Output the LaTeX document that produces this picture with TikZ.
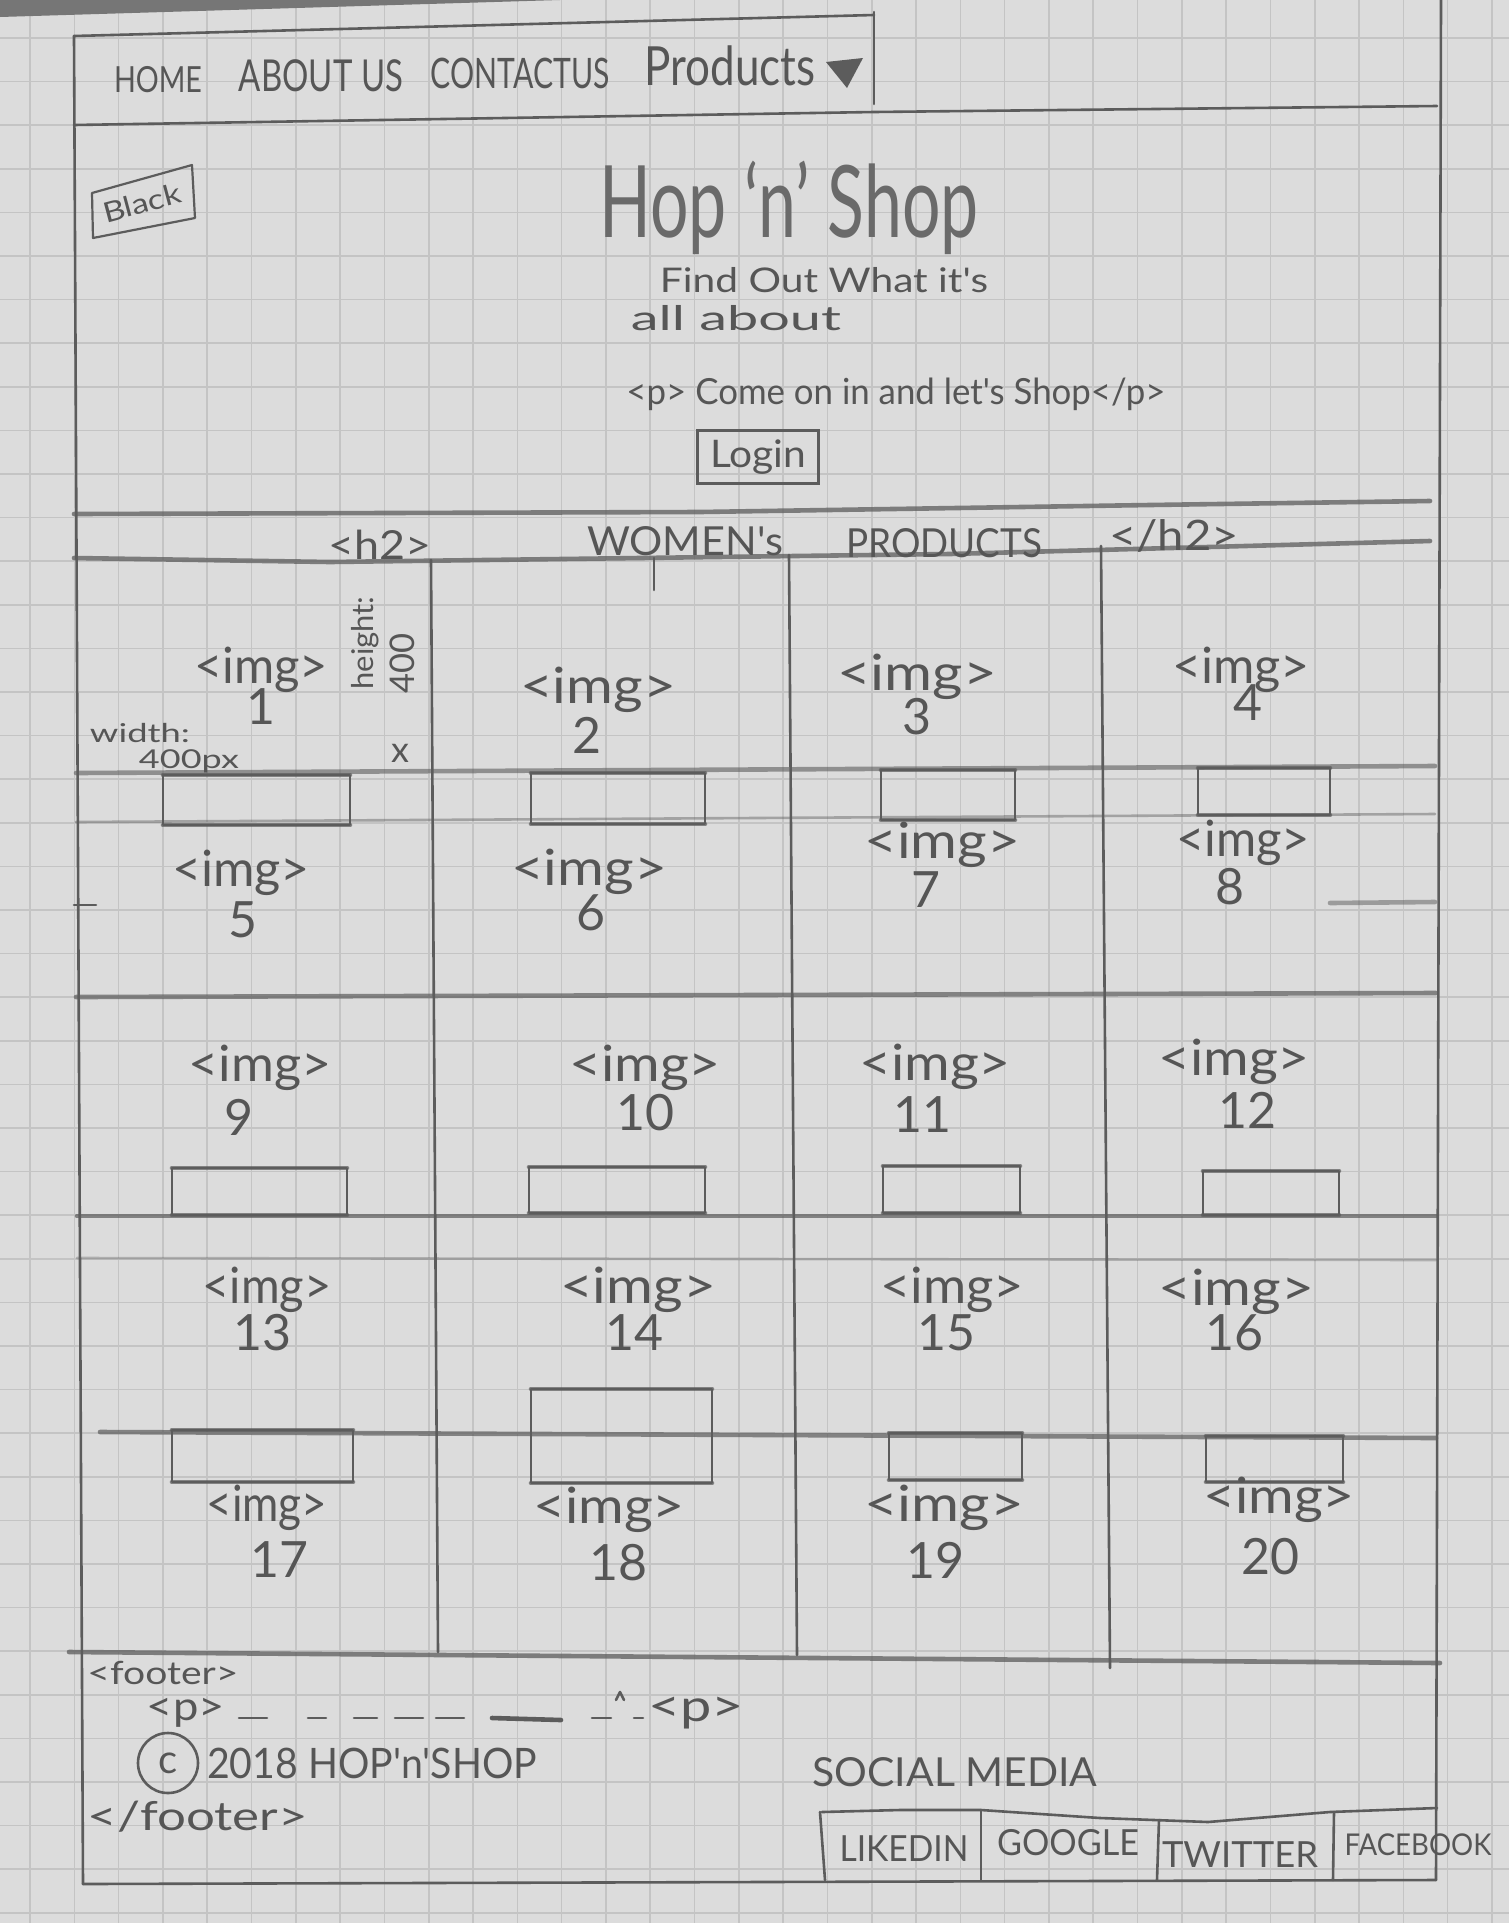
\documentclass[tikz,border=0pt]{standalone}
\usepackage{fontspec}
\setmainfont{Lato}
\newfontfamily\hand{Lato}
\usetikzlibrary{calc}

% one drawing unit = one pixel of the sheet
\newdimen\pxu \pxu=0.5pt
% text squeezed or stretched to a given width, natural height kept
\newcommand\sk[3]{\resizebox{#1\pxu}{\height}{\fontsize{#2}{#2}\selectfont #3}}

\definecolor{paperc}{RGB}{220,220,220}
\definecolor{gridc}{RGB}{196,196,196}
\definecolor{leadc}{RGB}{92,92,92}
\definecolor{inkc}{RGB}{86,86,86}
\definecolor{tablec}{RGB}{118,118,118}

\tikzset{
  lead/.style={draw=leadc, line width=1.3pt, line cap=round, line join=round},
  heavy/.style={lead, line width=2.3pt},
  soft/.style={draw opacity=#1},
  txt/.style={inner sep=0pt, text=inkc, font=\hand},
  gridln/.style={draw=gridc, line width=0.8pt},
}

% image placeholder: thin sides, smudged top and bottom
\newcommand\imgrect[4]{%
  \draw[lead] (#1,#2) rectangle (#3,#4);
  \draw[heavy, soft=.7] (#1,#2) -- (#3,#2) (#1,#4) -- (#3,#4);
}

\begin{document}
\begin{tikzpicture}[x=0.5pt, y=-0.5pt]
\useasboundingbox (0,0) rectangle (1509,1923);

% squared paper
\fill[paperc] (0,0) rectangle (1509,1923);
\foreach \k in {0,...,33} \draw[gridln] ({30+44.3*\k},0) -- ({30+44.3*\k},1923);
\foreach \k in {-1,...,43} \draw[gridln] (0,{38+43.6*\k}) -- (1509,{38+43.6*\k});
\fill[tablec] (0,0) -- (560,0) -- (0,17) -- cycle;

% page frame
\draw[lead] (74,36) -- (83,1884);
\draw[lead] (1441,0) -- (1436,1880);
\draw[lead] (83,1884) -- (1436,1880);

% navigation bar
\draw[lead] (74,36) -- (874,15);
\draw[lead] (874,12) -- (874,104);
\draw[lead] (74,125) -- (874,112) -- (1437,106);
\node[txt] (home) at (158,80) {\sk{88}{18}{HOME}};
\node[txt] (about) at (321,76) {\sk{164}{22}{ABOUT US}};
\node[txt] (contact) at (520,73) {\sk{179}{21}{CONTACTUS}};
\node[txt] (products) at (730,66) {\sk{171}{27}{Products}};
\coordinate (tri1) at (826,62);
\coordinate (tri2) at (863,58);
\coordinate (tri3) at (847,88);
\fill[leadc] (tri1) -- (tri2) -- (tri3) -- cycle;

% header
\coordinate (bk1) at (92,193);
\coordinate (bk2) at (192,165);
\coordinate (bk3) at (195,218);
\coordinate (bk4) at (93,238);
\draw[lead, line width=1.1pt] (bk1) -- (bk2) -- (bk3) -- (bk4) -- cycle;
\node[txt, rotate=15] (black) at (142,203) {\sk{80}{14}{Black}};
\node[txt, text=inkc!85!paperc] (title) at (789,208) {\sk{379}{50}{Hop ‘n’ Shop}};
\node[txt] (tag1) at (824,280) {\sk{328}{17}{Find Out What it's}};
\node[txt] (tag2) at (736,318) {\sk{210}{17}{all about}};
\node[txt] (para) at (896,394) {\sk{539}{18}{<p> Come on in and let's Shop</p>}};
\node[txt, draw=leadc, line width=1.3pt, minimum width=121\pxu, minimum height=53\pxu]
  (login) at (758,457) {\sk{96}{19}{Login}};

% section heading
\draw[heavy, soft=.75] (74,514) -- (700,512) -- (1150,505) -- (1430,501);
\draw[heavy, soft=.75] (74,558) -- (330,562) -- (950,554) -- (1430,541);
\draw[lead] (654,558) -- (654,590);
\node[txt] (h2open) at (380,545) {\sk{103}{20}{<h2>}};
\node[txt] (women) at (685,541) {\sk{196}{20}{WOMEN's}};
\node[txt] (prods) at (944,543) {\sk{196}{20}{PRODUCTS}};
\node[txt] (h2close) at (1174,536) {\sk{130}{21}{</h2>}};

% product grid
\draw[lead] (431,560) -- (438,1652);
\draw[lead] (789,555) -- (797,1655);
\draw[lead] (1101,546) -- (1110,1668);
\draw[heavy, soft=.6] (76,773) -- (1435,766);
\draw[lead, soft=.45] (76,822) -- (1435,814);
\draw[lead] (74,905) -- (96,905);
\draw[heavy, soft=.5] (1330,903) -- (1435,902);
\draw[heavy, soft=.7] (76,997) -- (1436,993);
\draw[heavy, soft=.7] (77,1216) -- (1436,1216);
\draw[lead, soft=.35] (77,1258) -- (1436,1260);
\draw[heavy, soft=.7] (100,1432) -- (1436,1438);

\imgrect{163}{775}{350}{825}
\imgrect{531}{773}{705}{824}
\imgrect{881}{770}{1015}{820}
\imgrect{1198}{768}{1330}{815}
\imgrect{172}{1168}{347}{1215}
\imgrect{529}{1167}{705}{1213}
\imgrect{883}{1166}{1020}{1213}
\imgrect{1203}{1171}{1339}{1215}
\imgrect{172}{1430}{353}{1482}
\imgrect{531}{1389}{712}{1483}
\imgrect{889}{1433}{1022}{1480}
\imgrect{1206}{1436}{1343}{1482}

% size notes on the first image
\node[txt, rotate=90] (hnote) at (365,643) {\sk{93}{15}{height:}};
\node[txt, rotate=90] (hval) at (402,663) {\sk{60}{17}{400}};
\node[txt] (xmark) at (400,753) {\fontsize{18}{18}\selectfont x};
\node[txt] (wnote) at (140,733) {\sk{100}{13}{width:}};
\node[txt] (wval) at (189,761) {\sk{100}{13}{400px}};

% image labels
\foreach \n/\x/\y/\w/\nx/\ny in {
   1/261/670/134/261/707,   2/598/690/156/587/735,
   3/917/677/160/917/717,   4/1241/670/138/1248/703,
   5/241/873/138/243/920,   6/589/872/156/591/913,
   7/942/845/156/926/890,   8/1243/843/134/1230/887,
   9/260/1068/143/239/1117, 10/645/1068/152/645/1113,
  11/935/1067/152/922/1115, 12/1234/1062/152/1247/1110,
  13/267/1290/129/262/1333, 14/638/1290/156/634/1333,
  15/952/1290/144/946/1333, 16/1236/1292/156/1234/1333,
  17/267/1508/121/279/1560, 18/609/1510/152/618/1563,
  19/944/1508/160/935/1560, 20/1279/1500/152/1270/1557} {
  \node[txt] (img\n) at (\x,\y) {\sk{\w}{25}{<img>}};
  \node[txt] (num\n) at (\nx,\ny) {\fontsize{25}{25}\selectfont \n};
}

% footer
\draw[heavy, soft=.75] (69,1652) -- (1440,1663);
\node[txt] (footopen) at (163,1673) {\sk{151}{16}{<footer>}};
\node[txt] (popen) at (186,1713) {\sk{78}{20}{<p>}};
\node[txt] (pclose) at (696,1713) {\sk{96}{22}{<p>}};
\foreach \a/\b in {239/267, 308/326, 354/377, 395/423, 436/464, 592/611, 634/643}
  \draw[lead] (\a,1718) -- (\b,1718);
\draw[heavy] (492,1718) -- (561,1720);
\draw[lead] (616,1700) -- (620,1692) -- (624,1700);
\node[txt, draw=leadc, line width=1.3pt, circle, minimum size=60\pxu] (copy) at (168,1763)
  {\fontsize{20}{20}\selectfont c};
\node[txt] (year) at (372,1763) {\sk{330}{21}{2018 HOP'n'SHOP}};
\node[txt] (footclose) at (198,1817) {\sk{220}{20}{</footer>}};

% social media buttons
\node[txt] (social) at (955,1772) {\sk{285}{20}{SOCIAL MEDIA}};
\draw[lead] (822,1812) -- (900,1810) -- (981,1810) -- (1100,1818) -- (1208,1822)
  -- (1330,1812) -- (1437,1808);
\draw[lead] (820,1812) -- (825,1880);
\draw[lead] (981,1810) -- (981,1880);
\draw[lead] (1159,1820) -- (1157,1880);
\draw[lead] (1334,1812) -- (1333,1880);
\node[txt] (linkedin) at (904,1849) {\sk{129}{18}{LIKEDIN}};
\node[txt] (google) at (1068,1843) {\sk{142}{18}{GOOGLE}};
\node[txt] (twitter) at (1240,1855) {\sk{156}{18}{TWITTER}};
\node[txt] (facebook) at (1418,1845) {\sk{147}{15}{FACEBOOK}};
\end{tikzpicture}
\end{document}
